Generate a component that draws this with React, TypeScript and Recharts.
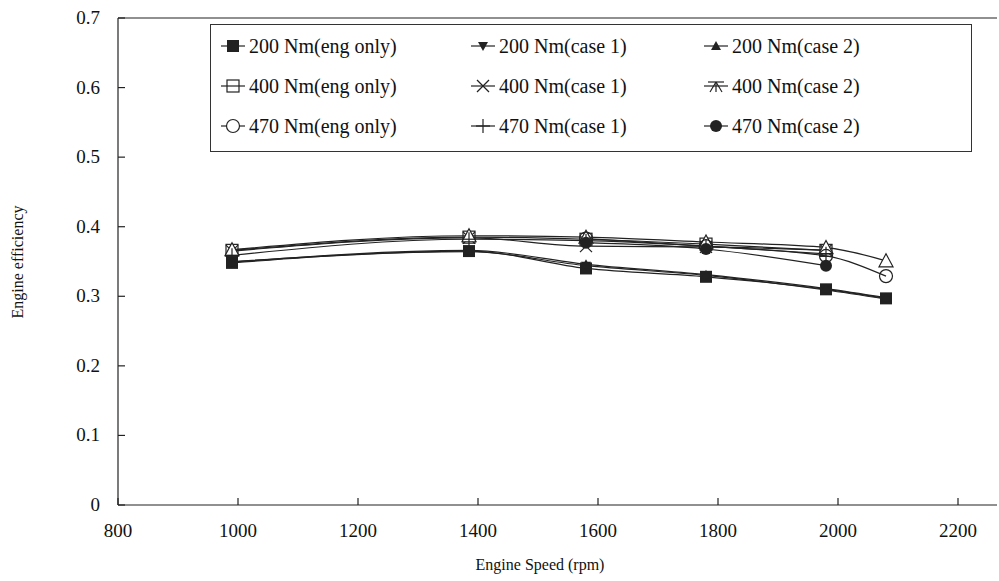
import React from "react";
import { LineChart, Line, XAxis, YAxis, ReferenceLine } from "recharts";

const rpm = [990, 1385, 1580, 1780, 1980, 2080];

const eff200Eng = [0.348, 0.365, 0.34, 0.328, 0.31, 0.297];
const eff200Case1 = [0.35, 0.364, 0.344, 0.33, 0.309, 0.296];
const eff200Case2 = [0.349, 0.366, 0.346, 0.331, 0.311, 0.298];
const eff400Eng = [0.366, 0.385, 0.382, 0.375, 0.366, null];
const eff400Case1 = [0.365, 0.384, 0.372, 0.371, 0.366, null];
const eff400Case2 = [0.367, 0.387, 0.385, 0.378, 0.37, 0.351];
const eff470Eng = [null, null, 0.383, 0.372, 0.358, 0.329];
const eff470Case1 = [0.359, 0.382, 0.38, 0.372, 0.361, null];
const eff470Case2 = [null, null, 0.377, 0.368, 0.344, null];

const xTicks = [800, 1000, 1200, 1400, 1600, 1800, 2000, 2200];
const yTicks = [0, 0.1, 0.2, 0.3, 0.4, 0.5, 0.6, 0.7];

const series = [
  { key: "s200eng", label: "200 Nm(eng only)", values: eff200Eng, mark: "fsq" },
  { key: "s200c1", label: "200 Nm(case 1)", values: eff200Case1, mark: "fdown" },
  { key: "s200c2", label: "200 Nm(case 2)", values: eff200Case2, mark: "fup" },
  { key: "s400eng", label: "400 Nm(eng only)", values: eff400Eng, mark: "osq" },
  { key: "s400c1", label: "400 Nm(case 1)", values: eff400Case1, mark: "x" },
  { key: "s400c2", label: "400 Nm(case 2)", values: eff400Case2, mark: "otri" },
  { key: "s470eng", label: "470 Nm(eng only)", values: eff470Eng, mark: "ocirc" },
  { key: "s470c1", label: "470 Nm(case 1)", values: eff470Case1, mark: "plus" },
  { key: "s470c2", label: "470 Nm(case 2)", values: eff470Case2, mark: "fcirc" },
];

const data = rpm.map((r, i) => {
  const row: Record<string, number | null> = { rpm: r };
  series.forEach((s) => (row[s.key] = s.values[i]));
  return row;
});

const INK = "#222";
const FONT = "'Liberation Serif', 'Times New Roman', serif";

function Marker({ kind, cx, cy, legend }: { kind: string; cx: number; cy: number; legend?: boolean }) {
  const s = 6;
  switch (kind) {
    case "fsq":
      return <rect x={cx - s} y={cy - s} width={2 * s} height={2 * s} fill={INK} />;
    case "osq":
      return <rect x={cx - s} y={cy - s} width={2 * s} height={2 * s} fill="none" stroke={INK} strokeWidth={1.2} />;
    case "fdown":
      return <polygon points={`${cx - 5},${cy - 4} ${cx + 5},${cy - 4} ${cx},${cy + 5}`} fill={INK} />;
    case "fup":
      return <polygon points={`${cx - 5},${cy + 4} ${cx + 5},${cy + 4} ${cx},${cy - 5}`} fill={INK} />;
    case "x":
      return (
        <g stroke={INK} strokeWidth={1.2}>
          <line x1={cx - 6} y1={cy - 6} x2={cx + 6} y2={cy + 6} />
          <line x1={cx - 6} y1={cy + 6} x2={cx + 6} y2={cy - 6} />
        </g>
      );
    case "otri":
      if (legend) {
        return (
          <g stroke={INK} strokeWidth={1.2}>
            <line x1={cx - 8} y1={cy - 4} x2={cx + 8} y2={cy - 4} />
            <line x1={cx} y1={cy - 4} x2={cx} y2={cy + 6} />
            <line x1={cx} y1={cy - 4} x2={cx - 6} y2={cy + 6} />
            <line x1={cx} y1={cy - 4} x2={cx + 6} y2={cy + 6} />
          </g>
        );
      }
      return <polygon points={`${cx - 7},${cy + 6} ${cx + 7},${cy + 6} ${cx},${cy - 7}`} fill="white" stroke={INK} strokeWidth={1.2} />;
    case "ocirc":
      return <circle cx={cx} cy={cy} r={6.5} fill={legend ? "white" : "none"} stroke={INK} strokeWidth={1.2} />;
    case "plus":
      return (
        <g stroke={INK} strokeWidth={1.2}>
          <line x1={cx - 7} y1={cy} x2={cx + 7} y2={cy} />
          <line x1={cx} y1={cy - 7} x2={cx} y2={cy + 7} />
        </g>
      );
    case "fcirc":
      return <circle cx={cx} cy={cy} r={6} fill={INK} />;
    default:
      return null;
  }
}

const XTick = (props: any) => {
  const { x, y, payload } = props;
  return (
    <g>
      <line x1={x} y1={y} x2={x} y2={y - 7} stroke={INK} strokeWidth={1.2} />
      <text x={x} y={y + 32} textAnchor="middle" fontSize={19} fontFamily={FONT} fill="#111">
        {payload.value}
      </text>
    </g>
  );
};

const YTick = (props: any) => {
  const { x, y, payload } = props;
  return (
    <g>
      <line x1={x} y1={y} x2={x + 7} y2={y} stroke={INK} strokeWidth={1.2} />
      <text x={x - 18} y={y + 6} textAnchor="end" fontSize={19} fontFamily={FONT} fill="#111">
        {payload.value}
      </text>
    </g>
  );
};

const legendCols = [232, 482, 715];
const legendRows = [45, 85, 125];

export default function App() {
  return (
    <div style={{ position: "absolute", left: 0, top: 0, width: 999, height: 581, background: "white", fontFamily: FONT }}>
      <LineChart width={999} height={581} data={data} margin={{ top: 18, right: 2, bottom: 46, left: 0 }}>
        <XAxis
          dataKey="rpm"
          type="number"
          domain={[800, 2265]}
          ticks={xTicks}
          tick={<XTick />}
          tickLine={false}
          tickSize={0}
          tickMargin={0}
          height={30}
          axisLine={{ stroke: INK, strokeWidth: 1.2 }}
          allowDataOverflow
        />
        <YAxis
          type="number"
          domain={[0, 0.7]}
          ticks={yTicks}
          width={118}
          tick={<YTick />}
          tickLine={false}
          tickSize={0}
          tickMargin={0}
          axisLine={{ stroke: INK, strokeWidth: 1.2 }}
        />
        <ReferenceLine y={0.7} stroke={INK} strokeWidth={1.2} />
        {series.map((s) => (
          <Line
            key={s.key}
            dataKey={s.key}
            type="monotone"
            stroke={INK}
            strokeWidth={1.2}
            isAnimationActive={false}
            activeDot={false}
            dot={(p: any) =>
              p.cx == null || p.cy == null || p.value == null ? (
                <g key={`${s.key}-${p.index}`} />
              ) : (
                <g key={`${s.key}-${p.index}`}>
                  <Marker kind={s.mark} cx={p.cx} cy={p.cy} />
                </g>
              )
            }
          />
        ))}
      </LineChart>
      <div
        style={{
          position: "absolute",
          left: 18,
          top: 262,
          transform: "translate(-50%, -50%) rotate(-90deg)",
          fontSize: 16,
          whiteSpace: "nowrap",
          color: "#111",
        }}
      >
        Engine efficiency
      </div>
      <div style={{ position: "absolute", left: 540, top: 565, transform: "translate(-50%, -50%)", fontSize: 16, whiteSpace: "nowrap", color: "#111" }}>
        Engine Speed (rpm)
      </div>
      <div
        style={{
          position: "absolute",
          left: 210,
          top: 24,
          width: 762,
          height: 128,
          border: "1px solid #333",
          background: "white",
          boxSizing: "border-box",
        }}
      >
        {series.map((s, i) => {
          const col = i % 3;
          const row = Math.floor(i / 3);
          const cx = legendCols[col] - 210;
          const cy = legendRows[row] - 24;
          return (
            <div key={s.key}>
              <svg style={{ position: "absolute", left: cx - 14, top: cy - 10 }} width={28} height={20}>
                <line x1={2} y1={10} x2={26} y2={10} stroke={INK} strokeWidth={1.2} />
                <Marker kind={s.mark} cx={14} cy={10} legend />
              </svg>
              <div style={{ position: "absolute", left: cx + 16, top: cy - 12, fontSize: 20, whiteSpace: "nowrap", color: "#111", lineHeight: "24px" }}>
                {s.label}
              </div>
            </div>
          );
        })}
      </div>
    </div>
  );
}
